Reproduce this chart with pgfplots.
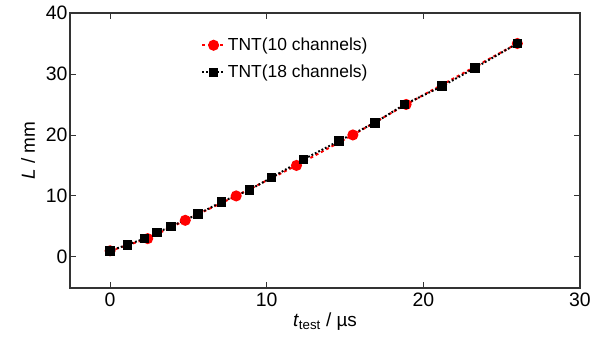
\documentclass[border=0pt]{standalone}
\usepackage{pgfplots}
\pgfplotsset{compat=1.18}
\usepackage{fontspec}
\setmainfont{Liberation Sans}
\begin{document}
\begin{tikzpicture}
\begin{axis}[
  scale only axis,
  width=510bp, height=275bp,
  xmin=-2.56, xmax=30, ymin=-5.1, ymax=40,
  xtick={0,10,20,30}, ytick={0,10,20,30,40},
  tick align=inside,
  major tick length=6bp,
  axis line style={line width=1.4pt, black!80},
  tick style={line width=0.9pt, black!80},
  /pgf/number format/assume math mode=true,
  ticklabel style={font=\fontsize{19.5}{22}\selectfont},
  xticklabel style={yshift=-1bp},
  yticklabel style={xshift=1bp},
  label style={font=\fontsize{19}{22}\selectfont},
  xlabel={\textit{t}\textsubscript{test} / µs},
  ylabel={\textit{L} / mm},
  xlabel style={yshift=0bp},
  ylabel style={yshift=4bp},
  legend style={at={(0.255,0.92)}, anchor=north west, draw=none, fill=white,
    font=\fontsize{17.5}{20}\selectfont, row sep=9bp, inner sep=1bp,
    /tikz/every even column/.append style={column sep=2bp}},
  legend cell align=left,
  legend image code/.code={\draw[mark repeat=2,mark phase=2,#1]
    plot coordinates {(0cm,0cm) (0.4cm,0cm) (0.8cm,0cm)};},
]
\addplot[red, dashed, line width=2pt, mark=*, mark size=4.5bp,
  mark options={solid, fill=red}]
  coordinates {(0,1) (2.4,3) (4.8,6) (8.05,10) (11.9,15) (15.5,20) (18.9,25) (26,35)};
\addlegendentry{TNT(10 channels)}
\addplot[black, dash pattern=on 1.8pt off 2pt, line width=2pt, mark=square*, mark size=3.8bp,
  mark options={solid, fill=black}]
  coordinates {(0,1) (1.1,2) (2.2,3) (3.0,4) (3.9,5) (5.6,7) (7.1,9) (8.9,11)
    (10.3,13) (12.35,16) (14.6,19) (16.9,22) (18.8,25) (21.2,28) (23.3,31) (26,35)};
\addlegendentry{TNT(18 channels)}
\end{axis}
\pgfresetboundingbox
\path ([shift={(-70bp,-54bp)}]current axis.south west) rectangle ([shift={(23bp,13bp)}]current axis.north east);
\end{tikzpicture}
\end{document}
